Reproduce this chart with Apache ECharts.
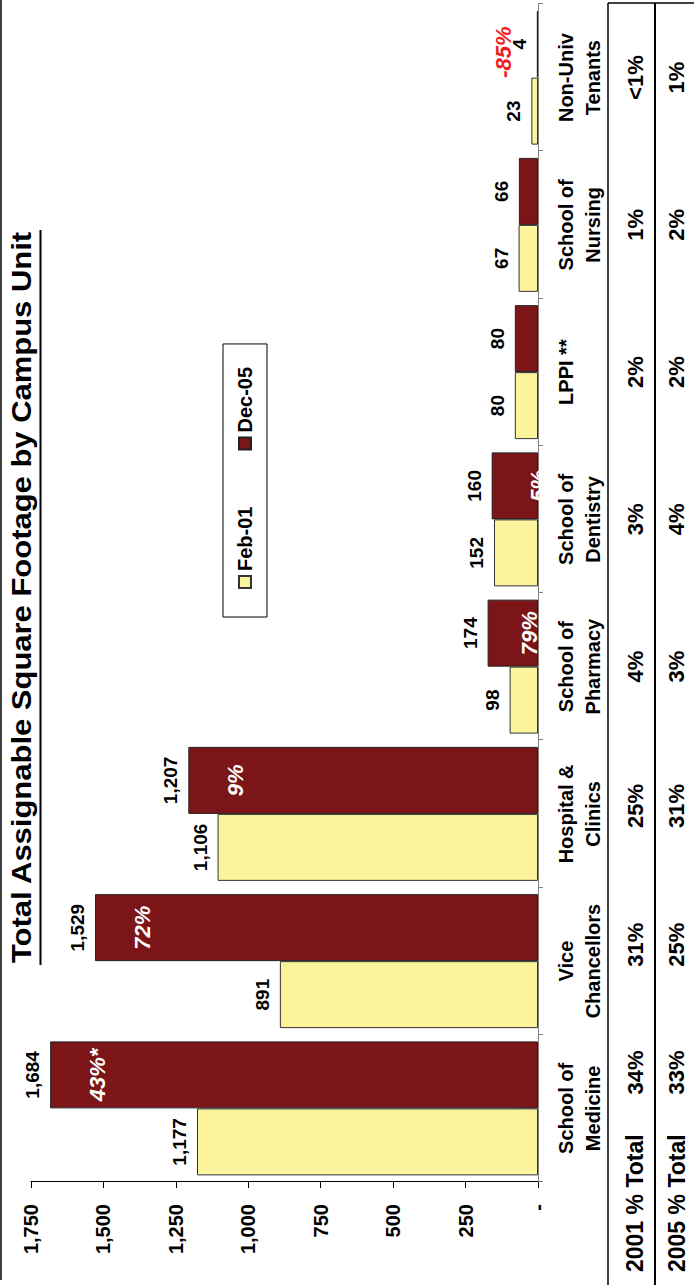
<!DOCTYPE html>
<html>
<head>
<meta charset="utf-8">
<title>Total Assignable Square Footage by Campus Unit</title>
<script src="https://cdn.jsdelivr.net/npm/echarts@6/dist/echarts.min.js"></script>
<style>
  html, body { margin: 0; padding: 0; background: #fff; overflow: hidden; }
  body { width: 694px; height: 1285px; position: relative; }
  /* the chart is laid out landscape and turned a quarter turn to fit the portrait page */
  #chart {
    position: absolute; left: 0; top: 1285px;
    width: 1285px; height: 694px;
    transform-origin: 0 0; transform: rotate(-90deg);
  }
</style>
</head>
<body>
<div id="chart"></div>
<script>
// Campus units, in axis order
const categories = ['School of\nMedicine', 'Vice\nChancellors', 'Hospital &\nClinics', 'School of\nPharmacy',
                    'School of\nDentistry', 'LPPI **', 'School of\nNursing', 'Non-Univ\nTenants'];
// Assignable square footage (thousands)
const feb01 = [1177, 891, 1106, 98, 152, 80, 67, 23];
const dec05 = [1684, 1529, 1207, 174, 160, 80, 66, 4];
// Change between the two dates, as printed on the bars
const changeLabels = ['43%*', '72%', '9%', '79%', '5%', '', '', '-85%'];
// Share of the campus total
const share2001 = ['34%', '31%', '25%', '4%', '3%', '2%', '1%', '<1%'];
const share2005 = ['33%', '25%', '31%', '3%', '4%', '2%', '2%', '1%'];
// Value axis range
const valueMin = 0, valueMax = 1750, valueStep = 250;

const FONT = '"Liberation Sans", Arial, Helvetica, sans-serif';
const YELLOW = '#FBF49D';
const MAROON = '#7C1518';

const fmt = v => v === 0 ? '-' : Number(v).toLocaleString('en-US');

// first three share cells sit a little to the right of their column centre
const shiftPad = [72, 33, 16, 0, 0, 0, 0, 0];
const shareAxisData = arr => arr.map((t, i) => shiftPad[i]
  ? { value: t, textStyle: { padding: [0, 0, 0, shiftPad[i]] } }
  : t);

const changeData = changeLabels.map((t, i) => {
  const item = { value: 0 };
  if (i === 3) item.label = { position: ['50%', 42] };
  if (i === 7) item.label = { position: 'top', distance: 33, color: '#F01E1E', offset: [-8, 0] };
  return item;
});

const chart = echarts.init(document.getElementById('chart'), null, { renderer: 'svg', width: 1285, height: 694 });

chart.setOption({
  animation: false,
  backgroundColor: '#fff',
  textStyle: { fontFamily: FONT },
  grid: { left: 103, right: 4, top: 31, bottom: 156, containLabel: false },
  legend: {
    data: ['Feb-01', 'Dec-05'],
    left: 668, top: 223,
    padding: [12, 23, 12, 28],
    itemGap: 56, itemWidth: 12, itemHeight: 12,
    icon: 'rect',
    borderColor: '#000', borderWidth: 1, backgroundColor: '#fff',
    textStyle: { fontFamily: FONT, fontSize: 20, fontWeight: 'bold', color: '#000' }
  },
  xAxis: [
    {
      type: 'category', data: categories, position: 'bottom',
      axisLine: { lineStyle: { color: '#808080', width: 1 } },
      axisTick: { show: true, length: 5, lineStyle: { color: '#808080' } },
      axisLabel: { interval: 0, margin: 14, fontFamily: FONT, fontSize: 20, fontWeight: 'bold',
                   lineHeight: 27, color: '#000' }
    },
    {
      type: 'category', data: shareAxisData(share2001), position: 'bottom', offset: 86,
      axisLine: { show: false }, axisTick: { show: false },
      axisLabel: { interval: 0, margin: 0, fontFamily: FONT, fontSize: 22, fontWeight: 'bold',
                   lineHeight: 22, color: '#000' }
    },
    {
      type: 'category', data: shareAxisData(share2005), position: 'bottom', offset: 127.5,
      axisLine: { show: false }, axisTick: { show: false },
      axisLabel: { interval: 0, margin: 0, fontFamily: FONT, fontSize: 22, fontWeight: 'bold',
                   lineHeight: 22, color: '#000' }
    }
  ],
  yAxis: {
    type: 'value', min: valueMin, max: valueMax, interval: valueStep,
    axisLine: { show: true, lineStyle: { color: '#000', width: 1 } },
    axisTick: { show: true, length: 6, lineStyle: { color: '#000' } },
    splitLine: { show: false },
    axisLabel: { margin: 22, fontFamily: FONT, fontSize: 20, fontWeight: 'bold', color: '#000', formatter: fmt }
  },
  series: [
    {
      name: 'Feb-01', type: 'bar', data: feb01,
      barGap: '0%', barCategoryGap: '9%',
      itemStyle: { color: YELLOW, borderColor: '#333', borderWidth: 1 },
      label: { show: true, position: 'top', distance: 8, fontFamily: FONT, fontSize: 19,
               fontWeight: 'bold', color: '#000', formatter: p => fmt(p.value) }
    },
    {
      name: 'Dec-05', type: 'bar', data: dec05, stack: 'dec',
      barGap: '0%', barCategoryGap: '9%',
      itemStyle: { color: MAROON, borderColor: '#222', borderWidth: 1 },
      label: { show: true, position: 'top', distance: 8, fontFamily: FONT, fontSize: 19,
               fontWeight: 'bold', color: '#000', formatter: p => fmt(p.value) }
    },
    {
      // carries the change labels, stacked onto the end of each Dec-05 bar
      name: 'Change', type: 'bar', data: changeData, stack: 'dec',
      barGap: '0%', barCategoryGap: '9%',
      itemStyle: { color: 'rgba(0,0,0,0)', borderWidth: 0 },
      label: { show: true, position: ['50%', 47], align: 'center', verticalAlign: 'middle',
               fontFamily: FONT, fontSize: 22, fontWeight: 'bold', fontStyle: 'italic', color: '#fff',
               formatter: p => changeLabels[p.dataIndex] }
    }
  ],
  graphic: [
    { type: 'text', x: 687.5, y: 22, scaleX: 1.147, silent: true,
      style: { text: 'Total Assignable Square Footage by Campus Unit', fill: '#000',
               font: 'bold 27px ' + FONT, align: 'center', verticalAlign: 'middle',
               textAlign: 'center', textVerticalAlign: 'middle' } },
    { type: 'line', silent: true, shape: { x1: 320, y1: 40.5, x2: 1055, y2: 40.5 },
      style: { stroke: '#000', lineWidth: 2 } },
    // outer frame edge
    { type: 'line', silent: true, shape: { x1: 5, y1: 1, x2: 1285, y2: 1 },
      style: { stroke: '#000', lineWidth: 1.5 } },
    // share table rules
    { type: 'line', silent: true, shape: { x1: 0, y1: 608, x2: 1282, y2: 608 },
      style: { stroke: '#000', lineWidth: 1.5 } },
    { type: 'line', silent: true, shape: { x1: 0, y1: 655, x2: 1282, y2: 655 },
      style: { stroke: '#000', lineWidth: 2 } },
    { type: 'line', silent: true, shape: { x1: 1282, y1: 608, x2: 1282, y2: 694 },
      style: { stroke: '#000', lineWidth: 1.5 } },
    { type: 'text', x: 13, y: 635, silent: true,
      style: { text: '2001 % Total', fill: '#000', font: 'bold 23px ' + FONT,
               align: 'left', verticalAlign: 'middle', textAlign: 'left', textVerticalAlign: 'middle' } },
    { type: 'text', x: 13, y: 676.5, silent: true,
      style: { text: '2005 % Total', fill: '#000', font: 'bold 23px ' + FONT,
               align: 'left', verticalAlign: 'middle', textAlign: 'left', textVerticalAlign: 'middle' } }
  ]
});
</script>
</body>
</html>
